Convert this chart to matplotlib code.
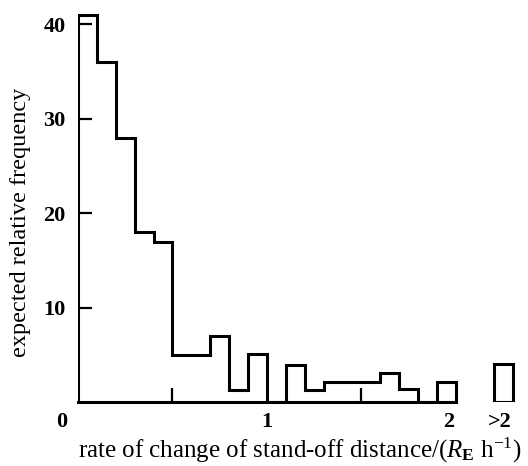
import matplotlib
matplotlib.use("Agg")
import matplotlib.pyplot as plt
from matplotlib.transforms import ScaledTranslation
import numpy as np

# histogram of stand-off distance rate of change, bins of 0.1 R_E/h
bin_edges = np.round(np.arange(0, 2.01, 0.1), 2)
freq = [41, 36, 28, 18, 17, 5, 5, 7, 1.3, 5.1,
        0, 3.9, 1.3, 2.1, 2.1, 2.1, 3.1, 1.4, 0, 2.2]
# everything above 2 R_E/h goes in one separate box
over_pos = 2.25
over_freq = 4.1

x_tick_pos = [0, 1, 1.96, 2.23]
x_tick_labels = ["0", "1", "2", ">2"]
y_ticks = [10, 20, 30, 40]

plt.rcParams["font.family"] = ["Liberation Serif", "DejaVu Serif"]
plt.rcParams["mathtext.fontset"] = "custom"
plt.rcParams["mathtext.rm"] = "Liberation Serif"
plt.rcParams["mathtext.it"] = "Liberation Serif:italic"
plt.rcParams["mathtext.bf"] = "Liberation Serif:bold"

fig = plt.figure(figsize=(5.28, 4.66), dpi=100)
ax = fig.add_axes([0.1477, 0.1367, 0.841, 0.852])

lw = 2.2
ax.stairs(freq, bin_edges, baseline=0, fill=False, color="black", linewidth=lw)
ax.bar(over_pos, over_freq, width=0.1, fill=False, edgecolor="black", linewidth=lw)

for side in ["top", "right", "left"]:
    ax.spines[side].set_visible(False)
ax.spines["bottom"].set_bounds(0, 2.0)
ax.spines["bottom"].set_linewidth(lw)

ax.set_yticks(y_ticks)
ax.set_yticklabels([str(t) for t in y_ticks], fontweight="bold", fontsize=16)
ax.tick_params(axis="y", direction="in", length=10, width=1.6, pad=9)

ax.set_xticks(x_tick_pos)
ax.set_xticklabels(x_tick_labels, fontweight="bold", fontsize=16)
ax.set_xticks([0.5, 1.5], minor=True)
ax.tick_params(axis="x", which="major", length=0, pad=7)
ax.tick_params(axis="x", which="minor", direction="in", length=10, width=1.6)

ax.set_xlim(0, 2.35)
ax.set_ylim(0, 42)

# the origin label sits left of the corner
zero_lbl = ax.get_xticklabels()[0]
zero_lbl.set_transform(zero_lbl.get_transform()
                       + ScaledTranslation(-0.16, 0, fig.dpi_scale_trans))

ax.set_xlabel(r"rate of change of stand-off distance/($R_{\mathbf{E}}$ h$^{-1}$)",
              fontsize=18)
ax.set_ylabel("expected relative frequency", fontsize=17.5)
ax.yaxis.set_label_coords(-0.105, 0.454)
ax.xaxis.set_label_coords(0.5, -0.085)

fig.savefig("out.png", dpi=100, facecolor="white")
